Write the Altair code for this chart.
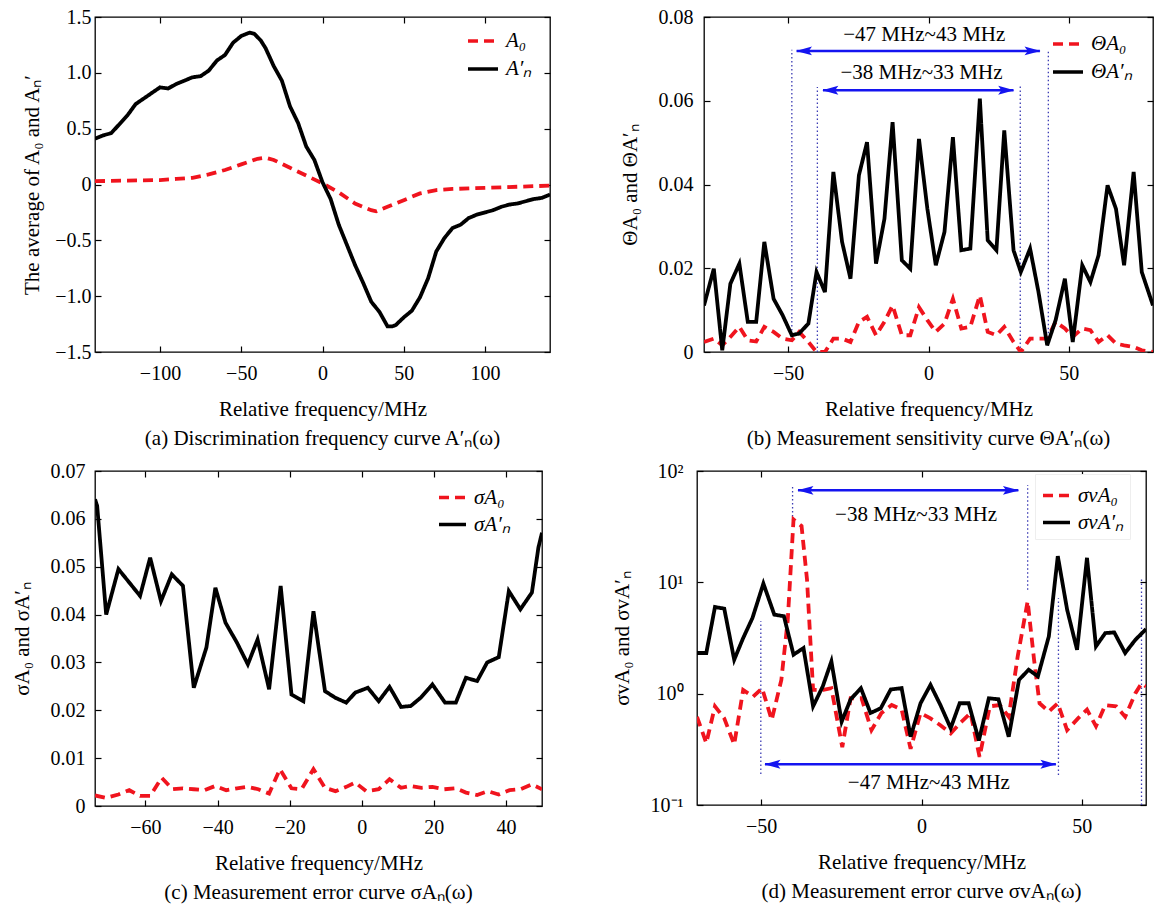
import altair as alt
import pandas as pd

FONT = "Liberation Serif"
RED = "#f0141e"
BLACK = "#000000"
BLUE = "#1414f0"
DOT = "#3c3cb4"

# ---------------- panel (a): discrimination frequency curve ----------------
a_x_black = [-140, -135, -130, -125, -120, -115, -110, -105, -100, -95, -90, -85, -80, -75, -70,
             -65, -60, -55, -50, -45, -42, -38, -35, -30, -25, -20, -15, -10, -5, 0, 5, 10, 15,
             20, 25, 30, 35, 40, 43, 45, 50, 55, 60, 65, 70, 75, 80, 85, 90, 95, 100, 105, 110,
             115, 120, 125, 130, 135, 140]
a_black = [0.41, 0.44, 0.46, 0.54, 0.62, 0.72, 0.77, 0.82, 0.87, 0.86, 0.90, 0.93, 0.96, 0.97, 1.02,
           1.11, 1.16, 1.27, 1.33, 1.36, 1.35, 1.29, 1.22, 1.06, 0.93, 0.70, 0.55, 0.34, 0.22, 0.02,
           -0.13, -0.36, -0.54, -0.72, -0.88, -1.05, -1.14, -1.27, -1.27, -1.26, -1.19, -1.13, -1.01,
           -0.84, -0.60, -0.48, -0.39, -0.36, -0.30, -0.27, -0.25, -0.23, -0.20, -0.18, -0.17, -0.15,
           -0.13, -0.12, -0.09]
a_x_red = [-140, -120, -100, -90, -80, -70, -60, -50, -40, -35, -30, -20, -10, 0, 10, 20, 30, 33,
           40, 50, 60, 70, 80, 100, 120, 140]
a_red = [0.03, 0.035, 0.04, 0.05, 0.06, 0.09, 0.13, 0.18, 0.23, 0.24, 0.22, 0.15, 0.08, 0.01, -0.07,
         -0.17, -0.23, -0.24, -0.20, -0.14, -0.08, -0.05, -0.04, -0.03, -0.02, -0.01]

# ---------------- panel (b): measurement sensitivity ----------------
b_x = [-80, -76.5, -73.5, -70.6, -67.4, -64.4, -61.4, -58.5, -55.2, -52.0, -48.7, -46.1, -42.8,
       -39.9, -36.9, -33.9, -30.8, -27.8, -24.8, -21.9, -18.7, -15.7, -12.8, -9.5, -6.5, -3.4,
       -0.4, 2.6, 5.7, 8.7, 11.7, 14.9, 18.3, 21.1, 24.2, 27.0, 30.3, 32.9, 36.2, 39.2, 42.3, 45.3,
       48.6, 51.4, 54.8, 57.7, 60.6, 63.8, 66.8, 69.7, 73.1, 76.0, 80.0]
b_black = [0.0111, 0.0199, 0.0004, 0.0163, 0.0211, 0.0072, 0.0072, 0.0263, 0.0127, 0.0088,
           0.0040, 0.0044, 0.0068, 0.0191, 0.0143, 0.0430, 0.0263, 0.0175, 0.0422, 0.0501,
           0.0211, 0.0318, 0.0549, 0.0219, 0.0199, 0.0509, 0.0342, 0.0207, 0.0287, 0.0513,
           0.0243, 0.0247, 0.0605, 0.0267, 0.0243, 0.0529, 0.0243, 0.0191, 0.0247, 0.0143,
           0.0016, 0.0076, 0.0175, 0.0024, 0.0207, 0.0167, 0.0231, 0.0398, 0.0342, 0.0207,
           0.0430, 0.0191, 0.0111]
b_red = [0.0024, 0.0032, 0.0016, 0.0036, 0.0060, 0.0028, 0.0025, 0.0060, 0.0048, 0.0032,
         0.0028, 0.0048, 0.0024, 0.0, 0.0, 0.0032, 0.0032, 0.0024, 0.0072, 0.0084,
         0.0040, 0.0072, 0.0111, 0.0040, 0.0040, 0.0107, 0.0076, 0.0048, 0.0068, 0.0127,
         0.0056, 0.0060, 0.0135, 0.0048, 0.0040, 0.0060, 0.0024, 0.0, 0.0032, 0.0032,
         0.0032, 0.0072, 0.0056, 0.0036, 0.0056, 0.0052, 0.0024, 0.0040, 0.0020, 0.0016,
         0.0012, 0.0004, 0.0]

# ---------------- panel (c): measurement error ----------------
c_x_black = [-74.0, -73.4, -70.9, -67.5, -61.5, -58.7, -55.7, -52.7, -49.6, -46.6, -43.1, -40.6,
             -37.8, -34.6, -31.6, -28.9, -25.7, -22.5, -19.5, -16.2, -13.4, -10.2, -7.3, -4.3,
             -1.8, 1.7, 4.7, 7.7, 10.9, 13.6, 16.3, 19.6, 23.1, 26.1, 28.9, 32.0, 34.8, 38.0,
             40.8, 44.0, 47.2, 49.0, 50.0]
c_black = [0.0641, 0.0627, 0.0400, 0.0495, 0.0439, 0.0519, 0.0428, 0.0484, 0.0460, 0.0247,
           0.0331, 0.0456, 0.0383, 0.0341, 0.0296, 0.0348, 0.0244, 0.0460, 0.0233, 0.0219,
           0.0407, 0.0240, 0.0226, 0.0216, 0.0237, 0.0247, 0.0219, 0.0249, 0.0207, 0.0209,
           0.0226, 0.0254, 0.0216, 0.0216, 0.0268, 0.0261, 0.0300, 0.0311, 0.0449, 0.0411,
           0.0446, 0.0540, 0.0571]
c_x_red = [-74.0, -70.9, -67.5, -64.5, -61.5, -58.7, -55.5, -52.5, -49.6, -46.6, -43.6, -40.6,
           -37.6, -34.6, -31.6, -28.7, -25.7, -22.7, -19.5, -16.7, -13.4, -10.2, -7.3, -4.3,
           -1.8, 1.2, 4.7, 7.7, 10.9, 13.6, 16.6, 19.6, 22.9, 26.1, 28.9, 32.0, 35.0, 38.0, 41.0,
           44.0, 47.2, 50.0]
c_red = [0.0022, 0.0017, 0.0024, 0.0033, 0.0021, 0.0021, 0.0059, 0.0035, 0.0037, 0.0035,
         0.0033, 0.0042, 0.0033, 0.0037, 0.0040, 0.0035, 0.0026, 0.0077, 0.0037, 0.0035,
         0.0077, 0.0038, 0.0031, 0.0040, 0.0049, 0.0031, 0.0035, 0.0056, 0.0038, 0.0042,
         0.0038, 0.0040, 0.0035, 0.0037, 0.0028, 0.0023, 0.0031, 0.0024, 0.0033, 0.0035,
         0.0045, 0.0035]

# ---------------- panel (d): measurement error (log) ----------------
d_x_black = [-70, -67.1, -64.4, -61.5, -58.4, -55.6, -52.7, -49.3, -45.9, -42.9, -39.9, -36.8,
             -33.8, -30.8, -28.1, -24.9, -22.1, -18.9, -15.9, -12.7, -9.6, -6.2, -3.4, -0.3, 2.8,
             5.9, 9.1, 11.9, 14.7, 17.9, 21.0, 24.0, 27.2, 30.4, 33.4, 36.3, 39.7, 42.5, 45.4,
             48.5, 51.6, 54.4, 57.3, 60.1, 63.5, 66.7, 70.0]
d_black = [2.32, 2.32, 6.0, 5.8, 2.02, 3.16, 4.79, 9.75, 5.13, 4.96, 2.24, 2.57, 0.77, 1.16, 1.95,
           0.56, 0.89, 1.12, 0.67, 0.74, 1.09, 1.12, 0.41, 0.82, 1.2, 0.79, 0.49, 0.82, 0.82,
           0.38, 0.91, 0.89, 0.41, 1.33, 1.64, 1.43, 3.27, 17.2, 5.7, 2.48, 16.6, 2.66, 3.5,
           3.55, 2.32, 3.05, 3.8]
d_x_red = [-70, -67.1, -64.4, -61.5, -58.4, -55.6, -52.5, -49.7, -46.7, -43.7, -41.7, -39.9,
           -37.4, -35.7, -33.8, -30.6, -28.1, -24.7, -22.1, -18.7, -15.6, -12.5, -9.3, -6.2,
           -3.4, -0.3, 2.8, 5.9, 9.1, 11.9, 15.3, 18.1, 21.3, 24.4, 27.2, 30.0, 33.1, 35.1,
           36.8, 39.7, 42.5, 45.4, 48.8, 51.6, 54.4, 57.3, 60.7, 63.5, 66.7, 68.6, 70.0]
d_red = [0.62, 0.36, 0.77, 0.60, 0.35, 1.08, 0.94, 1.12, 0.58, 1.33, 4.6, 36.7, 32, 10.6, 1.08,
         1.08, 1.12, 0.33, 0.91, 0.91, 0.47, 0.67, 0.79, 0.72, 0.32, 0.67, 0.60, 0.52, 0.44,
         0.54, 0.67, 0.27, 0.77, 0.79, 0.62, 2.16, 6.76, 2.02, 0.82, 0.69, 0.82, 0.47, 0.60,
         0.72, 0.51, 0.79, 0.77, 0.62, 1.01, 1.24, 1.16]

# ---------------- annotations (data units) ----------------
b_arrow_x = [-47.0, -37.6]
b_arrow_x2 = [39.7, 30.3]
b_arrow_y = [0.0719, 0.0625]
b_head_left = [-44.4, -35.0]
b_head_right = [37.1, 27.7]
b_dot_x = [-48.7, 42.7, -39.6, 32.7]
b_dot_y = [0.0042, 0.0016, 0.0, 0.0]
b_dot_y2 = [0.0722, 0.0722, 0.0633, 0.0638]
b_text = ["\u221247 MHz~43 MHz", "\u221238 MHz~33 MHz"]
b_text_x = [-1.5, -2.5]
b_text_y = [0.0756, 0.0667]

d_arrow_x = [-38.5, -48.8]
d_arrow_x2 = [30.2, 41.9]
d_arrow_y = [67.0, 0.232]
d_head_left = [-36.2, -46.5]
d_head_right = [27.9, 39.6]
d_dot_x = [-40.2, 33.1, -50.1, 42.7, 68.6]
d_dot_y = [36.0, 8.6, 0.19, 0.186, 0.1]
d_dot_y2 = [73.0, 75.0, 4.46, 7.2, 10.6]
d_text = ["\u221238 MHz~33 MHz", "\u221247 MHz~43 MHz"]
d_text_x = [-1.7, 2.3]
d_text_y = [40.0, 0.156]

A_LAB = ["A\u2080", "A\u2032\u2099"]
B_LAB = ["\u0398A\u2080", "\u0398A\u2032\u2099"]
C_LAB = ["\u03c3A\u2080", "\u03c3A\u2032\u2099"]
D_LAB = ["\u03c3vA\u2080", "\u03c3vA\u2032\u2099"]


def series_df(xr, yr, xb, yb, labels):
    return pd.concat([
        pd.DataFrame({"x": xr, "y": yr, "s": labels[0]}),
        pd.DataFrame({"x": xb, "y": yb, "s": labels[1]}),
    ], ignore_index=True)


def panel(df, labels, xdom, ydom, xticks, yticks, ylab_expr, ytitle, caption, w, h,
          leg_x, leg_y, sym, ylab_pad, ytitle_pad, ylog=False, leg_fill=None, ann=None):
    xscale = alt.Scale(domain=xdom, nice=False, zero=False)
    if ylog:
        yscale = alt.Scale(type="log", domain=ydom, nice=False)
    else:
        yscale = alt.Scale(domain=ydom, nice=False, zero=False)
    common = dict(domain=False, grid=False, ticks=True, tickSize=6, tickColor="black",
                  tickWidth=1.2, offset=-6, labelFont=FONT, labelFontSize=20,
                  labelColor="black", titleFont=FONT, titleFontWeight="normal",
                  titleColor="black")
    xaxis = alt.Axis(values=xticks, title="Relative frequency/MHz", format="d",
                     labelPadding=11, titlePadding=15, titleFontSize=21, **common)
    yaxis = alt.Axis(values=yticks, title=ytitle, labelExpr=ylab_expr, labelPadding=ylab_pad,
                     titlePadding=ytitle_pad, titleFontSize=21, **common)
    leg_kw = dict(title=None, orient="none", legendX=leg_x, legendY=leg_y, symbolType="stroke",
                  symbolSize=sym * sym, symbolStrokeWidth=3.5, labelFont=FONT, labelFontSize=21,
                  labelFontStyle="italic", labelColor="black", rowPadding=1,
                  labelOffset=6)
    if leg_fill:
        leg_kw.update(fillColor=leg_fill, padding=6, strokeColor="#eeeeee")
    else:
        leg_kw.update(padding=0)
    legend = alt.Legend(**leg_kw)
    lines = alt.Chart(df).mark_line(strokeWidth=3.8, clip=True).encode(
        x=alt.X("x:Q", scale=xscale, axis=xaxis),
        y=alt.Y("y:Q", scale=yscale, axis=yaxis),
        color=alt.Color("s:N", scale=alt.Scale(domain=labels, range=[RED, BLACK]), legend=legend),
        strokeDash=alt.StrokeDash("s:N", scale=alt.Scale(domain=labels, range=[[10, 6], [1, 0]]),
                                  legend=legend),
    )
    frame_axis = dict(domain=False, grid=False, labels=False, title=None, tickSize=6,
                      tickColor="black", tickWidth=1.2, offset=-6)
    frame = alt.Chart(df).mark_point(opacity=0).encode(
        x=alt.X("x:Q", scale=xscale, axis=alt.Axis(orient="top", values=xticks, **frame_axis)),
        y=alt.Y("y:Q", scale=yscale, axis=alt.Axis(orient="right", values=yticks, **frame_axis)),
    )
    layers = []
    if ann is not None:
        arrows = pd.DataFrame({"x": ann["ax"], "x2": ann["ax2"], "y": ann["ay"]})
        heads_l = pd.DataFrame({"x": ann["hl"], "y": ann["ay"]})
        heads_r = pd.DataFrame({"x": ann["hr"], "y": ann["ay"]})
        dots = pd.DataFrame({"x": ann["dx"], "y": ann["dy"], "y2": ann["dy2"]})
        texts = pd.DataFrame({"x": ann["tx"], "y": ann["ty"], "t": ann["t"]})
        X = alt.X("x:Q", scale=xscale, axis=None)
        Y = alt.Y("y:Q", scale=yscale, axis=None)
        layers.append(alt.Chart(dots).mark_rule(color=DOT, strokeWidth=1.3,
                                                strokeDash=[1.5, 2.5]).encode(x=X, y=Y, y2="y2:Q"))
        layers.append(alt.Chart(arrows).mark_rule(color=BLUE, strokeWidth=2.5).encode(
            x=X, x2="x2:Q", y=Y))
        layers.append(alt.Chart(heads_l).mark_point(
            shape="M -1 0 L 1 -0.55 L 0.6 0 L 1 0.55 Z", filled=True, size=260, color=BLUE,
            opacity=1, strokeWidth=0).encode(x=X, y=Y))
        layers.append(alt.Chart(heads_r).mark_point(
            shape="M 1 0 L -1 -0.55 L -0.6 0 L -1 0.55 Z", filled=True, size=260, color=BLUE,
            opacity=1, strokeWidth=0).encode(x=X, y=Y))
        layers.append(alt.Chart(texts).mark_text(font=FONT, fontSize=21, color="black").encode(
            x=X, y=Y, text="t:N"))
    ch = alt.layer(*layers, lines, frame).resolve_axis(x="independent", y="independent")
    return ch.properties(
        width=w, height=h,
        title=alt.TitleParams(text=caption, orient="bottom", anchor="middle", font=FONT,
                              fontSize=21, fontWeight="normal", color="black", offset=9),
    )


dfa = series_df(a_x_red, a_red, a_x_black, a_black, A_LAB)
dfb = series_df(b_x, b_red, b_x, b_black, B_LAB)
dfc = series_df(c_x_red, c_red, c_x_black, c_black, C_LAB)
dfd = series_df(d_x_red, d_red, d_x_black, d_black, D_LAB)

lab1 = "datum.value == 0 ? '0' : format(datum.value, '.1f')"
lab2 = "datum.value == 0 ? '0' : format(datum.value, '.2f')"
labd = ("datum.value < 0.5 ? '10\u207b\u00b9' : datum.value < 5 ? '10\u2070' : "
        "datum.value < 50 ? '10\u00b9' : '10\u00b2'")

pa = panel(dfa, A_LAB, [-140, 140], [-1.5, 1.5], [-100, -50, 0, 50, 100],
           [-1.5, -1.0, -0.5, 0, 0.5, 1.0, 1.5], lab1,
           "The average of A\u2080 and A\u2099\u2032",
           "(a) Discrimination frequency curve A\u2032\u2099(\u03c9)", 455, 335,
           371, 7, 30, 4, 12)
pb = panel(dfb, B_LAB, [-80, 80], [0, 0.08], [-50, 0, 50],
           [0, 0.02, 0.04, 0.06, 0.08], lab2,
           "\u0398A\u2080 and \u0398A\u2032\u2099",
           "(b) Measurement sensitivity curve \u0398A\u2032\u2099(\u03c9)", 449, 335,
           347, 10, 30, 11, 18,
           ann=dict(ax=b_arrow_x, ax2=b_arrow_x2, ay=b_arrow_y, hl=b_head_left,
                    hr=b_head_right, dx=b_dot_x, dy=b_dot_y, dy2=b_dot_y2, tx=b_text_x,
                    ty=b_text_y, t=b_text))
pc = panel(dfc, C_LAB, [-74, 50], [0, 0.07], [-60, -40, -20, 0, 20, 40],
           [0, 0.01, 0.02, 0.03, 0.04, 0.05, 0.06, 0.07], lab2,
           "\u03c3A\u2080 and \u03c3A\u2032\u2099",
           "(c) Measurement error curve \u03c3A\u2099(\u03c9)", 447, 335,
           342, 11, 27, 10, 18)
pd_ = panel(dfd, D_LAB, [-70, 70], [0.1, 100], [-50, 0, 50], [0.1, 1, 10, 100], labd,
            "\u03c3vA\u2080 and \u03c3vA\u2032\u2099",
            "(d) Measurement error curve \u03c3vA\u2099(\u03c9)", 449, 334,
            338, 3, 27, 14, 18, ylog=True, leg_fill="white",
            ann=dict(ax=d_arrow_x, ax2=d_arrow_x2, ay=d_arrow_y, hl=d_head_left,
                     hr=d_head_right, dx=d_dot_x, dy=d_dot_y, dy2=d_dot_y2, tx=d_text_x,
                     ty=d_text_y, t=d_text))

RES = dict(color="independent", strokeDash="independent")
top = alt.hconcat(pa, pb, spacing=64).resolve_scale(**RES).resolve_legend(**RES)
bottom = alt.hconcat(pc, pd_, spacing=64).resolve_scale(**RES).resolve_legend(**RES)
chart = alt.vconcat(top, bottom, spacing=10).resolve_scale(**RES).resolve_legend(**RES).properties(
    padding={"left": 10, "top": 6, "right": 0, "bottom": 0},
    background="white",
).configure_view(stroke="black", strokeWidth=1.3)

chart.save("out.html", embed_options={"renderer": "svg", "actions": False})
